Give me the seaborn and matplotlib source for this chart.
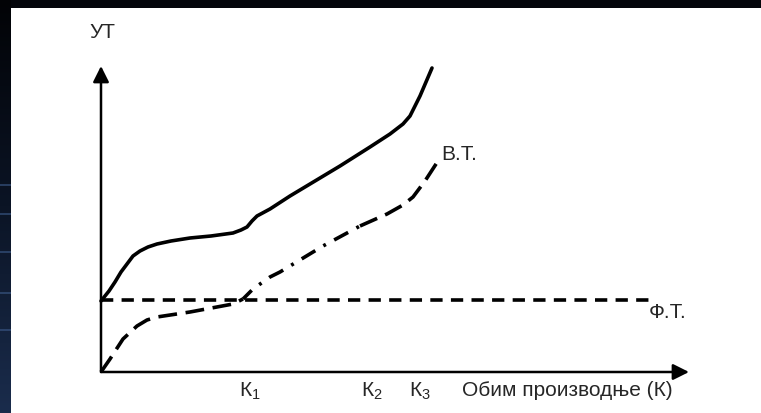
import numpy as np
import pandas as pd
import seaborn as sns
import matplotlib.pyplot as plt
from matplotlib.patches import Rectangle

# values (arbitrary units, origin of the axes at 0,0)
tc_x = [0, 8, 14, 20, 26, 32, 39, 47, 56, 70, 89, 110, 132, 140, 146, 151, 156, 169, 189, 239, 269, 289, 302, 309, 319, 331]
tc_y = [71, 81, 90, 100, 108, 116, 121, 125, 128, 131, 134, 136, 139, 142, 145, 151, 156, 163, 176, 206, 225, 238, 248, 256, 276, 304]

vc_x = [0, 9, 22, 36, 46, 56, 89, 132, 142, 152, 169, 179, 222, 259, 286, 302, 312, 324, 337]
vc_y = [0, 13, 33, 46, 52, 55, 60, 68, 73, 83, 95, 100, 126, 146, 158, 167, 175, 191, 211]

fc_x = [0, 552]
fc_y = [72, 72]

k_labels = ["К$_1$", "К$_2$", "К$_3$"]
k_pos = [149, 271, 319]

sns.set_style("white")
plt.rcParams['font.family'] = ['Liberation Sans', 'DejaVu Sans']
plt.rcParams['mathtext.fontset'] = 'custom'
plt.rcParams['mathtext.rm'] = 'Liberation Sans'
plt.rcParams['mathtext.default'] = 'regular'

fig = plt.figure(figsize=(7.61, 4.14), dpi=100, facecolor='#04060b')

# slide background: white card, dark strip on the left
fig.patches.append(Rectangle((11 / 761, 0), 1, 405 / 414, transform=fig.transFigure,
                             facecolor='white', edgecolor='none', zorder=-5))
side = fig.add_axes([0, 0, 11 / 761, 1])
grad = np.linspace(0, 1, 200)[:, None]
side.imshow(grad, aspect='auto', cmap=sns.blend_palette(['#020306', '#0b1425', '#1a2c4c'], as_cmap=True),
            extent=[0, 1, 0, 1], origin='upper')
for yy in [0.45, 0.52, 0.61, 0.71, 0.8]:
    side.axhline(1 - yy, color='#3c5a8a', lw=1.2, alpha=0.7)
side.axis('off')

ax = fig.add_axes([0, 0, 1, 1])
ax.set_xlim(-101, 660)
ax.set_ylim(-41, 373)
ax.axis('off')

lw = 2.6
# total cost
tc = pd.DataFrame({'x': tc_x, 'y': tc_y})
sns.lineplot(data=tc, x='x', y='y', sort=False, estimator=None, ax=ax,
             color='black', linewidth=lw, solid_capstyle='round', solid_joinstyle='round')

# fixed cost
sns.lineplot(x=fc_x, y=fc_y, sort=False, estimator=None, ax=ax, color='black',
             linewidth=lw, linestyle=(0, (3.4, 2.3)))

# variable cost: dashed, then dash-dot, then dashed again
vc = pd.DataFrame({'x': vc_x, 'y': vc_y})
part1 = vc[vc.x <= 142]
part2 = vc[(vc.x >= 142) & (vc.x <= 259)]
part3 = vc[vc.x >= 259]
sns.lineplot(data=part1, x='x', y='y', sort=False, estimator=None, ax=ax, color='black',
             linewidth=lw, linestyle=(0, (5.2, 2.4)))
sns.lineplot(data=part2, x='x', y='y', sort=False, estimator=None, ax=ax, color='black',
             linewidth=lw, linestyle=(1, (4.4, 2.6, 0.8, 2.6)))
sns.lineplot(data=part3, x='x', y='y', sort=False, estimator=None, ax=ax, color='black',
             linewidth=lw, linestyle=(0, (5.2, 2.4)))

# axes with arrows
arrow = dict(arrowstyle='-|>', color='black', lw=1.8, mutation_scale=24, shrinkA=0, shrinkB=0)
ax.annotate('', xy=(0, 306), xytext=(0, 0), arrowprops=arrow)
ax.annotate('', xy=(588, 0), xytext=(0, 0), arrowprops=arrow)

fs = 15
ax.text(1, 341, "УТ", ha='center', va='center', fontsize=fs)
ax.text(340, 218, "В.Т.", ha='left', va='center', fontsize=fs)
ax.text(548, 60, "Ф.Т.", ha='left', va='center', fontsize=fs)
for lab, kx in zip(k_labels, k_pos):
    ax.text(kx, -18, lab, ha='center', va='center', fontsize=fs)
ax.text(361, -18, "Обим производње (К)", ha='left', va='center', fontsize=fs)

fig.savefig('out.png', dpi=100, facecolor=fig.get_facecolor())
